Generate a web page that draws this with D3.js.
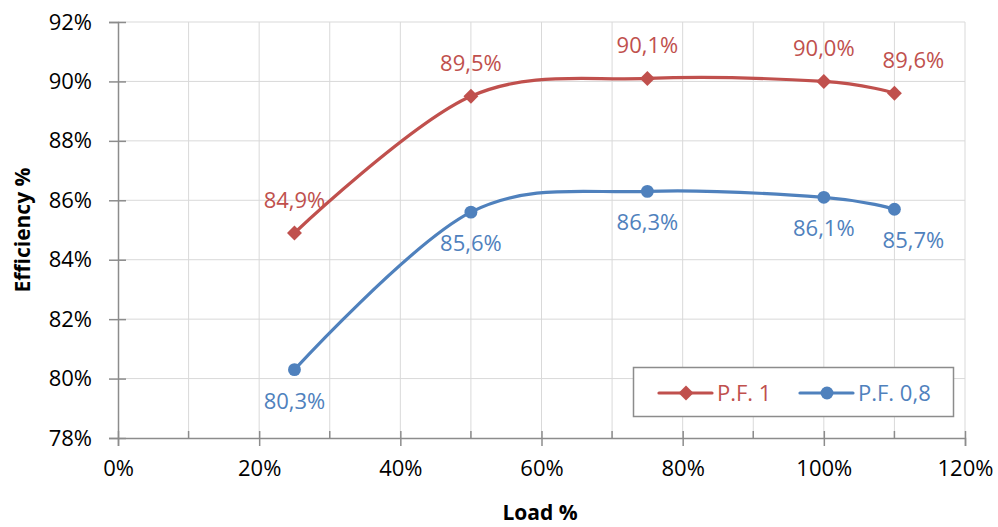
<!DOCTYPE html>
<html>
<head>
<meta charset="utf-8">
<script src="https://cdn.jsdelivr.net/npm/d3@7"></script>
<style>
  body { margin: 0; background: #fff; }
  text { font-family: "Open Sans", sans-serif; }
</style>
</head>
<body>
<svg id="chart" width="998" height="527"></svg>
<script>
// load points (%)
const loads = [25, 50, 75, 100, 110];
// efficiency per power factor (%)
const pf1 = [84.9, 89.5, 90.1, 90.0, 89.6];
const pf08 = [80.3, 85.6, 86.3, 86.1, 85.7];
const seriesNames = ["P.F. 1", "P.F. 0,8"];
const xTicks = [0, 20, 40, 60, 80, 100, 120];
const yTicks = [78, 80, 82, 84, 86, 88, 90, 92];

const red = "#C0504D", blue = "#4F81BD";
const svg = d3.select("#chart");

const x = d3.scaleLinear().domain([0, 120]).range([118, 965]);
const y = d3.scaleLinear().domain([78, 92]).range([438, 22]);

// gridlines
const grid = svg.append("g");
grid.selectAll(".vg")
    .data(d3.range(10, 121, 10))
    .join("line")
    .attr("x1", d => x(d)).attr("x2", d => x(d))
    .attr("y1", y(92)).attr("y2", y(78))
    .attr("stroke", "#d9d9d9").attr("stroke-width", 1);
grid.selectAll(".hg")
    .data(yTicks.slice(1))
    .join("line")
    .attr("x1", x(0)).attr("x2", x(120))
    .attr("y1", d => y(d)).attr("y2", d => y(d))
    .attr("stroke", "#d9d9d9").attr("stroke-width", 1);

// y axis
const yAxis = svg.append("g")
    .attr("transform", "translate(" + x(0) + ",0)")
    .call(d3.axisLeft(y).tickValues(yTicks).tickFormat(d => d + "%").tickSize(9).tickPadding(17));
yAxis.select(".domain").attr("stroke", "#8c8c8c").attr("stroke-width", 1.5);
yAxis.selectAll(".tick line").attr("stroke", "#8c8c8c").attr("stroke-width", 1.5).attr("x2", -9).attr("x1", 8);
yAxis.selectAll(".tick text").attr("font-size", 22).attr("fill", "#000").attr("font-family", "Open Sans").attr("x", -26);

// x axis
const xAxis = svg.append("g")
    .attr("transform", "translate(0," + y(78) + ")")
    .call(d3.axisBottom(x).tickValues(xTicks).tickFormat(d => d + "%").tickSize(8).tickPadding(14));
xAxis.select(".domain").attr("stroke", "#8c8c8c").attr("stroke-width", 1.5);
xAxis.selectAll(".tick line").attr("stroke", "#8c8c8c").attr("stroke-width", 1.5).attr("y1", -7);
xAxis.selectAll(".tick text").attr("font-size", 22).attr("fill", "#000").attr("font-family", "Open Sans");
// minor ticks
xAxis.selectAll(".minor")
    .data(d3.range(10, 120, 20))
    .join("line")
    .attr("x1", d => x(d)).attr("x2", d => x(d))
    .attr("y1", -7).attr("y2", 0)
    .attr("stroke", "#8c8c8c").attr("stroke-width", 1.5);

// axis titles
svg.append("text")
    .attr("x", 540).attr("y", 520)
    .attr("text-anchor", "middle")
    .attr("font-size", 21).attr("font-weight", "bold")
    .text("Load %");
svg.append("text")
    .attr("transform", "translate(30,230) rotate(-90)")
    .attr("text-anchor", "middle")
    .attr("font-size", 21).attr("font-weight", "bold")
    .text("Efficiency %");

const line = d3.line()
    .x(d => x(d[0]))
    .y(d => y(d[1]))
    .curve(d3.curveCardinal.tension(0));

const fmt = v => v.toFixed(1).replace(".", ",") + "%";

// marker: rotated square for the diamond, circle otherwise
function marker(g, kind, color) {
    if (kind === "diamond") {
        g.attr("d", d3.symbol().type(d3.symbolSquare).size(112))
         .attr("transform", function() { return d3.select(this).attr("transform") + " rotate(45)"; });
    } else {
        g.attr("d", d3.symbol().type(d3.symbolCircle).size(130));
    }
    g.attr("fill", color);
}

function drawSeries(values, color, kind, labelDy) {
    const pts = loads.map((l, i) => [l, values[i]]);
    svg.append("path")
        .attr("d", line(pts))
        .attr("fill", "none")
        .attr("stroke", color)
        .attr("stroke-width", 3.2)
        .attr("stroke-linecap", "round");
    const m = svg.append("g").selectAll("path")
        .data(pts)
        .join("path")
        .attr("transform", d => "translate(" + x(d[0]) + "," + y(d[1]) + ")");
    marker(m, kind, color);
    svg.append("g").selectAll("text")
        .data(pts)
        .join("text")
        // last label nudged right, as in the original
        .attr("x", (d, i) => x(d[0]) + (i === pts.length - 1 ? 19 : 0))
        .attr("y", d => y(d[1]) + labelDy)
        .attr("text-anchor", "middle")
        .attr("font-size", 22)
        .attr("fill", color)
        .text(d => fmt(d[1]));
}

drawSeries(pf1, red, "diamond", -25);
drawSeries(pf08, blue, "circle", 39);

// legend
const leg = svg.append("g");
leg.append("rect")
    .attr("x", 633.5).attr("y", 367.5).attr("width", 320).attr("height", 49)
    .attr("fill", "#fff").attr("stroke", "#8c8c8c").attr("stroke-width", 1.5);
const legItems = [
    {name: seriesNames[0], color: red, kind: "diamond", x0: 659},
    {name: seriesNames[1], color: blue, kind: "circle", x0: 800}
];
legItems.forEach(it => {
    leg.append("line")
        .attr("x1", it.x0).attr("x2", it.x0 + 53)
        .attr("y1", 393).attr("y2", 393)
        .attr("stroke", it.color).attr("stroke-width", 3.2).attr("stroke-linecap", "round");
    const p = leg.append("path")
        .attr("transform", "translate(" + (it.x0 + 27) + ",393)");
    marker(p, it.kind, it.color);
    leg.append("text")
        .attr("x", it.x0 + 58).attr("y", 401)
        .attr("font-size", 22).attr("fill", it.color)
        .text(it.name);
});
</script>
</body>
</html>
